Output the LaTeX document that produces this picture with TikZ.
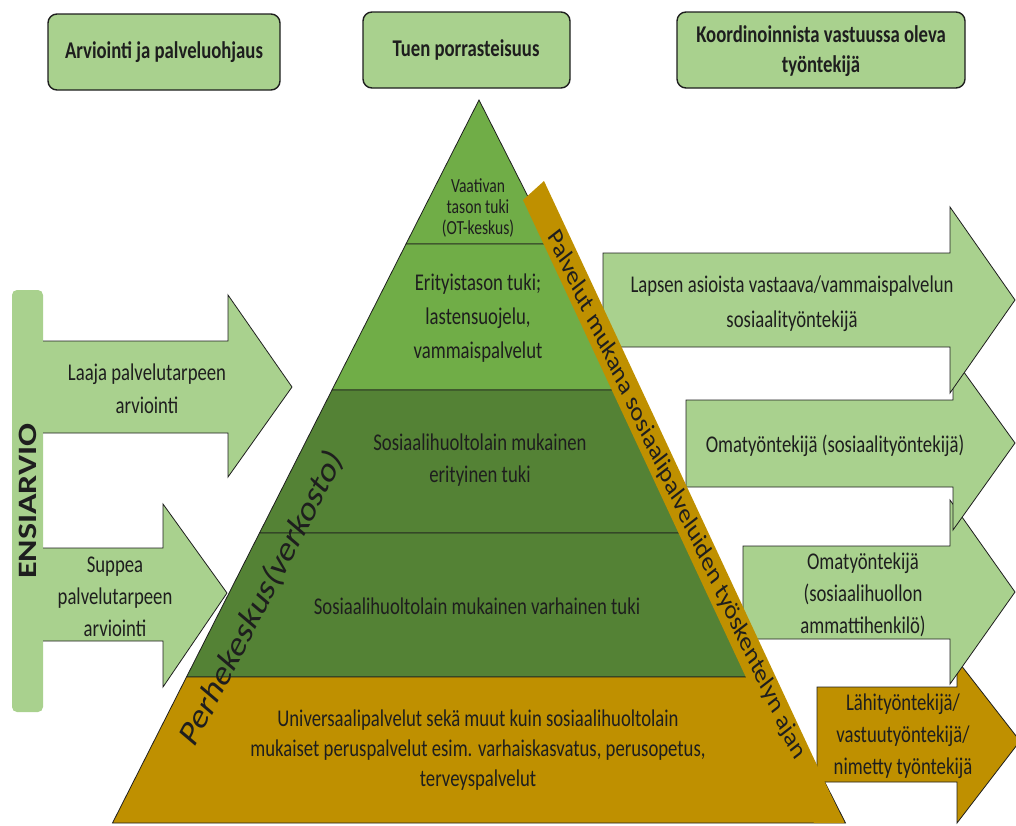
\documentclass[tikz,border=0pt]{standalone}
\usepackage{fontspec}
\setmainfont{Carlito}
\usetikzlibrary{calc}
\definecolor{arrowgreen}{RGB}{169,209,142}
\definecolor{tiergreen}{RGB}{112,173,71}
\definecolor{tierdark}{RGB}{84,130,53}
\definecolor{tiergold}{RGB}{191,144,0}
\definecolor{ink}{RGB}{30,30,30}

\begin{document}
\begin{tikzpicture}[x=1pt, y=-1pt,
	txt/.style={transform shape, xscale=0.78, align=center, inner sep=0pt, text=ink, font=\fontsize{24}{32}\selectfont},
	header/.style={draw=ink, line width=1.4pt, fill=arrowgreen, rounded corners=9pt}]

	\useasboundingbox (0,0) rectangle (1016,825);
	\clip (0,0) rectangle (1016,825);

	% headers
	\draw[header] (48,14) rectangle (280,90);
	\draw[header] (363,12) rectangle (570,88);
	\draw[header] (677,12) rectangle (965,88);
	\node[txt, font=\bfseries\fontsize{24}{30}\selectfont] (arviointi) at (164,52) {Arviointi ja palveluohjaus};
	\node[txt, font=\bfseries\fontsize{24}{30}\selectfont] (porrasteisuus) at (466,50) {Tuen porrasteisuus};
	\node[txt, font=\bfseries\fontsize{24}{30}\selectfont] (koordinointi) at (821,51) {Koordinoinnista vastuussa oleva\\työntekijä};

	% ensiarvio and left arrows
	\fill[arrowgreen, rounded corners=5pt] (12,290) rectangle (43,712);
	\draw[ink, thick, fill=arrowgreen] (43,341) -- (228,341) -- (228,295) -- (292,387) -- (228,477) -- (228,433) -- (43,433);
	\draw[ink, thick, fill=arrowgreen] (43,548) -- (163,548) -- (163,504) -- (227,593) -- (163,687) -- (163,641) -- (43,641);
	\node[txt, rotate=90, font=\bfseries\fontsize{34}{34}\selectfont] (ensiarvio) at (28,501) {ENSIARVIO};
	\node[txt, font=\fontsize{24}{33}\selectfont] (laaja) at (147,389) {Laaja palvelutarpeen\\arviointi};
	\node[txt, font=\fontsize{24}{32}\selectfont] (suppea) at (115,597) {Suppea\\palvelutarpeen\\arviointi};

	% pyramid
	\draw[ink, thick, fill=tiergreen] (479,100) -- (552,244) -- (406,244) -- cycle;
	\draw[ink, thick, fill=tiergreen] (406,244) -- (552,244) -- (626,390) -- (332,390) -- cycle;
	\draw[ink, thick, fill=tierdark] (332,390) -- (626,390) -- (698.5,533) -- (259.5,533) -- cycle;
	\draw[ink, thick, fill=tierdark] (259.5,533) -- (698.5,533) -- (771.5,677) -- (186.5,677) -- cycle;
	\draw[ink, thick, fill=tiergold] (186.5,677) -- (771.5,677) -- (845.5,823) -- (112.5,823) -- cycle;

	% right arrows
	\draw[ink, thick, fill=tiergold] (817,687) -- (957,687) -- (957,660) -- (1020,741) -- (957,823) -- (957,782) -- (817,782) -- cycle;
	\draw[ink, thick, fill=arrowgreen] (743,546) -- (950,546) -- (950,500) -- (1015,592) -- (950,684) -- (950,639) -- (743,639) -- cycle;
	\draw[ink, thick, fill=arrowgreen] (686,400) -- (953,400) -- (953,357) -- (1015,443) -- (953,530) -- (953,487) -- (686,487) -- cycle;
	\draw[ink, thick, fill=arrowgreen] (603,253) -- (950,253) -- (950,207) -- (1015,300) -- (950,393) -- (950,347) -- (603,347) -- cycle;

	% band
	\fill[tiergold] (523,200) -- (544,181) -- (844,823) -- (814,823) -- cycle;

	\node[txt, font=\fontsize{20}{21}\selectfont] (vaativa) at (478,208) {Vaativan\\tason tuki\\(OT-keskus)};
	\node[txt, font=\fontsize{24}{34}\selectfont] (erityistaso) at (478,318) {Erityistason tuki;\\lastensuojelu,\\vammaispalvelut};
	\node[txt] (erityinen) at (480,460) {Sosiaalihuoltolain mukainen\\erityinen tuki};
	\node[txt] (varhainen) at (477,606) {Sosiaalihuoltolain mukainen varhainen tuki};
	\node[txt, font=\fontsize{24}{30}\selectfont] (universaali) at (478,750) {Universaalipalvelut sekä muut kuin sosiaalihuoltolain\\mukaiset peruspalvelut esim. varhaiskasvatus, perusopetus,\\terveyspalvelut};
	\node[txt, rotate=56.5, font=\fontsize{38}{38}\selectfont] (perhekeskus) at (262,598) {Perhekeskus(verkosto)};
	\node[txt, rotate=-58.8, font=\fontsize{28}{28}\selectfont] (mukana) at (676,495) {Palvelut mukana sosiaalipalveluiden työskentelyn ajan};

	\node[txt, font=\fontsize{24}{35}\selectfont] (lapsen) at (792,304) {Lapsen asioista vastaava/vammaispalvelun\\sosiaalityöntekijä};
	\node[txt] (oma) at (835,446) {Omatyöntekijä (sosiaalityöntekijä)};
	\node[txt] (omahuolto) at (863,595) {Omatyöntekijä\\(sosiaalihuollon\\ammattihenkilö)};
	\node[txt] (lahi) at (903,736) {Lähityöntekijä/\\vastuutyöntekijä/\\nimetty työntekijä};

\end{tikzpicture}
\end{document}
